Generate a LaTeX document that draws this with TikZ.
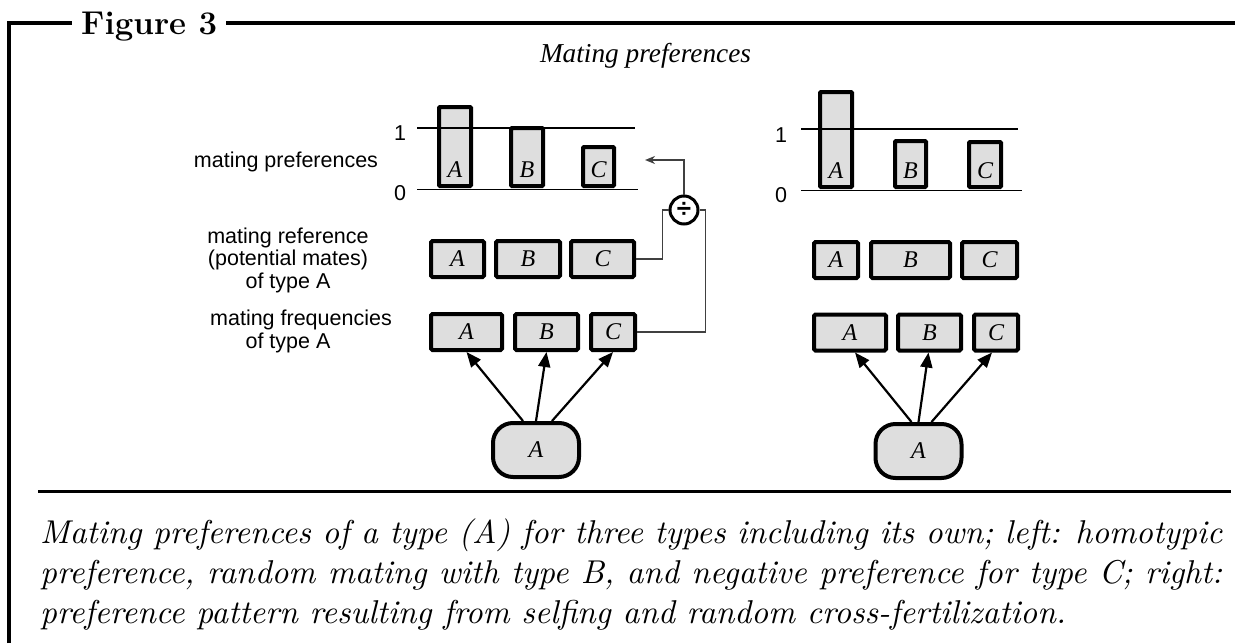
\documentclass[tikz,border=0pt]{standalone}
\usepackage{fontspec}
\usetikzlibrary{arrows.meta,calc}
\newfontfamily\sansf{Liberation Sans}
\newfontfamily\serf{Liberation Serif}
\newfontfamily\capit{lmroman10-italic.otf}
\definecolor{boxgray}{HTML}{DEDEDE}
\definecolor{conngray}{HTML}{404040}
\begin{document}
\begin{tikzpicture}[x=1pt,y=-1pt,
  box/.style={draw=black, line width=4pt, fill=boxgray, rounded corners=1.5pt, inner sep=0pt,
              font=\serf\itshape\fontsize{24}{26}\selectfont},
  bar/.style={draw=black, line width=4pt, fill=boxgray, rounded corners=1pt, inner sep=0pt, anchor=south},
  lettr/.style={inner sep=0pt, font=\serf\itshape\fontsize{24}{26}\selectfont},
  src/.style={draw=black, line width=4pt, fill=boxgray, rounded corners=20pt, inner sep=0pt,
              minimum width=86pt, minimum height=54pt, font=\serf\itshape\fontsize{24}{26}\selectfont},
  lbl/.style={inner sep=0pt, font=\sansf\fontsize{21.5}{22.5}\selectfont, align=center},
  axis/.style={line width=1.3pt, black},
  conn/.style={line width=1.6pt, conngray},
  arr/.style={line width=2.2pt, -{Triangle[length=15pt,width=12pt]}},
]
\useasboundingbox (0,0) rectangle (1235,643);

% frame
\draw[line width=3.8pt] (9,643) -- (9,23) -- (1235,23);
\node[fill=white, inner xsep=9pt, inner ysep=3pt, anchor=base west,
      font=\bfseries\fontsize{33}{38}\selectfont] (figlbl) at (72,34) {Figure 3};
\draw[line width=3pt] (38,491.5) -- (1231,491.5);

% title
\node[inner sep=0pt, anchor=base, font=\serf\itshape\fontsize{27.3}{30}\selectfont] (title) at (645.5,62) {Mating preferences};

% left labels
\node[lbl] (lpref) at (286,162) {mating preferences};
\node[lbl] (lref) at (288,260) {mating reference\\(potential mates)\\of type A};
\node[lbl] (lfreq1) at (301,320) {mating frequencies};
\node[lbl] (lfreq2) at (288,343) {of type A};

% ---------- left panel ----------
\node[bar, minimum width=32pt, minimum height=79pt] (lbA) at (455,188) {};
\node[bar, minimum width=32pt, minimum height=58pt] (lbB) at (527,188) {};
\node[bar, minimum width=31pt, minimum height=39pt] (lbC) at (598.5,188) {};
\node[lettr] (lbAt) at (455,170) {A};
\node[lettr] (lbBt) at (527,170) {B};
\node[lettr] (lbCt) at (598.5,170) {C};
\draw[axis] (417,128) -- (635,128);
\draw[axis] (417,189.5) -- (638,189.5);
\node[lbl] (l1) at (400,133) {1};
\node[lbl] (l0) at (400,193) {0};

\node[box, minimum width=53pt, minimum height=36pt] (lrA) at (457.5,259) {A};
\node[box, minimum width=64pt, minimum height=36pt] (lrB) at (528,259) {B};
\node[box, minimum width=63pt, minimum height=36pt] (lrC) at (602.5,259) {C};
\node[box, minimum width=71pt, minimum height=36pt] (lfA) at (466.5,332) {A};
\node[box, minimum width=63pt, minimum height=36pt] (lfB) at (546.5,332) {B};
\node[box, minimum width=44pt, minimum height=36pt] (lfC) at (613,332) {C};

\node[draw=black, circle, line width=3pt, fill=white, minimum size=28pt, inner sep=0pt,
      font=\sansf\bfseries\fontsize{26}{28}\selectfont] (div) at (684,210) {÷};
\coordinate (ltip) at (645,160);
\draw[conn] (lrC.east) -| ($(div.west)+(-6,0)$) -- (div.west);
\draw[conn] (lfC.east) -| ($(div.east)+(6,0)$) -- (div.east);
\draw[conn, -{Stealth[length=10pt,width=8pt]}] (div.north) |- (ltip);

\node[src] (lS) at (536,450) {A};
\draw[arr] ([xshift=-13pt]lS.north) -- (lfA.south);
\draw[arr] (lS.north) -- (lfB.south);
\draw[arr] ([xshift=16pt]lS.north) -- (lfC.south);

% ---------- right panel ----------
\node[bar, minimum width=32pt, minimum height=95pt] (rbA) at (836,189) {};
\node[bar, minimum width=31pt, minimum height=46pt] (rbB) at (910.5,189) {};
\node[bar, minimum width=32pt, minimum height=45pt] (rbC) at (985,189) {};
\node[lettr] (rbAt) at (836,171) {A};
\node[lettr] (rbBt) at (910.5,171) {B};
\node[lettr] (rbCt) at (985,171) {C};
\draw[axis] (801,129) -- (1018,129);
\draw[axis] (801,190.5) -- (1022,190.5);
\node[lbl] (r1) at (781,135) {1};
\node[lbl] (r0) at (781,195) {0};

\node[box, minimum width=44pt, minimum height=36pt] (rrA) at (836,260) {A};
\node[box, minimum width=79pt, minimum height=36pt] (rrB) at (910.5,260) {B};
\node[box, minimum width=55pt, minimum height=36pt] (rrC) at (989.5,260) {C};
\node[box, minimum width=72pt, minimum height=36pt] (rfA) at (850,332.5) {A};
\node[box, minimum width=63pt, minimum height=36pt] (rfB) at (929.5,332.5) {B};
\node[box, minimum width=44pt, minimum height=36pt] (rfC) at (996,332.5) {C};

\node[src] (rS) at (918.5,451) {A};
\draw[arr] ([xshift=-7pt]rS.north) -- ([xshift=5pt]rfA.south);
\draw[arr] (rS.north) -- ([xshift=-1pt]rfB.south);
\draw[arr] ([xshift=13pt]rS.north) -- ([xshift=-4pt]rfC.south);

% caption
\node[inner sep=0pt, anchor=north west, text width=1182pt, align=justify,
      font=\capit\fontsize{33}{40}\selectfont] (cap) at (40,519)
{Mating preferences of a type (A) for three types including its own; left: homotypic\linebreak
preference, random mating with type B, and negative preference for type C; right:\linebreak
preference pattern resulting from selfing and random cross-fertilization.};
\end{tikzpicture}
\end{document}
